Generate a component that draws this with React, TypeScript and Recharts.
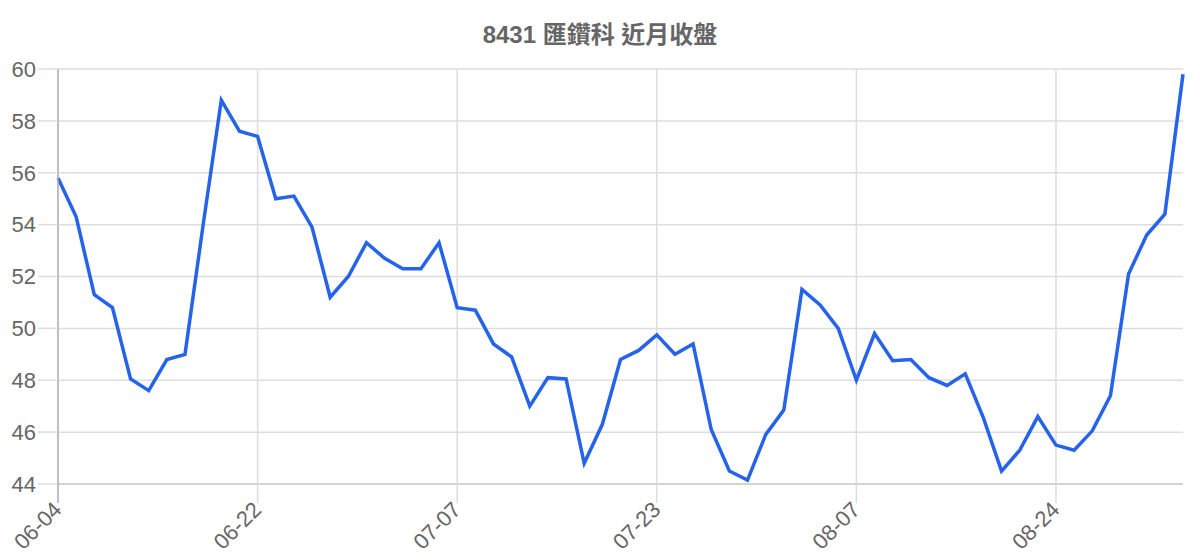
import React from 'react';
import {
  LineChart,
  Line,
  XAxis,
  YAxis,
  CartesianGrid,
  ReferenceLine,
} from 'recharts';

const DATES = [
  '06-04', '06-06', '06-07', '06-08', '06-11', '06-12', '06-13', '06-14', '06-15', '06-19', '06-20',
  '06-22', '06-25', '06-26', '06-27', '06-28', '06-29', '07-02', '07-03', '07-04', '07-05', '07-06',
  '07-07', '07-09', '07-10', '07-11', '07-12', '07-13', '07-16', '07-17', '07-18', '07-19', '07-20',
  '07-23', '07-24', '07-25', '07-26', '07-27', '07-30', '07-31', '08-01', '08-02', '08-03', '08-06',
  '08-07', '08-08', '08-09', '08-10', '08-13', '08-14', '08-15', '08-16', '08-17', '08-20', '08-21',
  '08-24', '08-27', '08-28', '08-29', '08-30', '08-31', '09-03', '09-04',
];

const CLOSES = [
  55.8, 54.3, 51.3, 50.8, 48.05, 47.6, 48.8, 49.0, 54.0, 58.8, 57.6,
  57.4, 55.0, 55.1, 53.9, 51.2, 52.0, 53.3, 52.7, 52.3, 52.3, 53.3,
  50.8, 50.7, 49.4, 48.9, 47.0, 48.1, 48.05, 44.8, 46.3, 48.8, 49.15,
  49.75, 49.0, 49.4, 46.1, 44.5, 44.15, 45.9, 46.85, 51.5, 50.9, 50.0,
  48.0, 49.8, 48.75, 48.8, 48.1, 47.8, 48.25, 46.55, 44.5, 45.3, 46.6,
  45.5, 45.3, 46.05, 47.4, 52.1, 53.6, 54.4, 59.8,
];

const X_TICKS = ['06-04', '06-22', '07-07', '07-23', '08-07', '08-24'];
const Y_TICKS = [44, 46, 48, 50, 52, 54, 56, 58, 60];

const FONT = '"Liberation Sans", Arial, "Noto Sans CJK TC", sans-serif';

const data = DATES.map((date, i) => ({ date, close: CLOSES[i] }));

// rotated date label plus its own tick mark (first one is darker, it continues the y axis)
function DateTick(props: any) {
  const { x, y, payload, index } = props;
  return (
    <g>
      <line x1={x} x2={x} y1={y - 21} y2={y - 2} stroke={index === 0 ? '#aaa' : '#ddd'} strokeWidth={1.5} />
      <g transform={`translate(${x + 5},${y + 6})`}>
        <text x={0} y={0} textAnchor="end" transform="rotate(-45)" fill="#666" fontSize={22} fontFamily={FONT}>
          {payload.value}
        </text>
      </g>
    </g>
  );
}

export default function App() {
  return (
    <div style={{ position: 'absolute', left: 0, top: 0, width: 1200, height: 560, fontFamily: FONT }}>
      <div
        style={{
          position: 'absolute',
          top: 20,
          left: 0,
          width: 1200,
          textAlign: 'center',
          fontSize: 24,
          lineHeight: '30px',
          fontWeight: 'bold',
          color: '#666',
        }}
      >
        8431 匯鑽科 近月收盤
      </div>
      <LineChart width={1200} height={560} data={data} margin={{ top: 69, right: 17, bottom: 0, left: 0 }}>
        <CartesianGrid vertical={false} stroke="#ddd" strokeWidth={1.5} />
        {X_TICKS.slice(1).map((t) => (
          <ReferenceLine key={t} x={t} stroke="#ddd" strokeWidth={1.5} />
        ))}
        <XAxis
          dataKey="date"
          interval={10}
          height={76}
          tickSize={19}
          tickLine={false}
          axisLine={{ stroke: '#ccc', strokeWidth: 1.5 }}
          tick={<DateTick />}
        />
        <YAxis
          domain={[44, 60]}
          ticks={Y_TICKS}
          width={58}
          tickSize={20}
          tickLine={{ stroke: '#ddd', strokeWidth: 1.5 }}
          axisLine={{ stroke: '#aaa', strokeWidth: 1.5 }}
          tick={{ fill: '#666', fontSize: 22, fontFamily: FONT }}
        />
        <Line
          type="linear"
          dataKey="close"
          stroke="#2563eb"
          strokeWidth={3.5}
          dot={false}
          isAnimationActive={false}
        />
      </LineChart>
    </div>
  );
}
